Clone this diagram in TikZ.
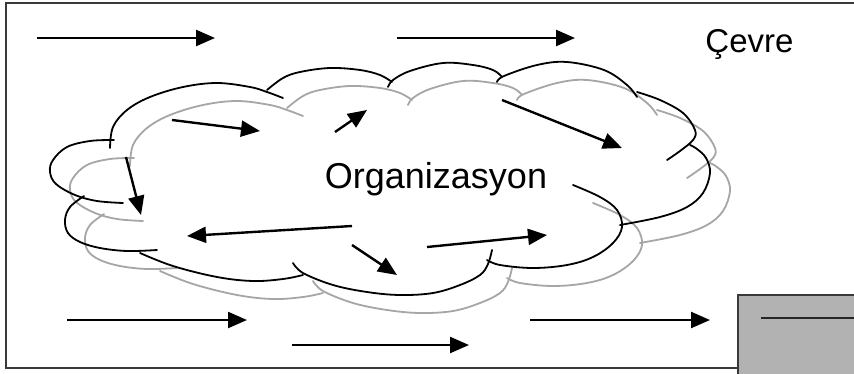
\documentclass[tikz,border=0pt]{standalone}
\usepackage{fontspec}
\setmainfont{Liberation Sans}
\usetikzlibrary{arrows.meta}
\definecolor{cloudgray}{HTML}{A6A6A6}
\definecolor{boxgray}{HTML}{B2B2B2}
\definecolor{framecol}{HTML}{3A3A3A}
\tikzset{
  flow/.style={line width=2.4pt, -{Triangle[length=19pt,width=16pt]}},
  cloudline/.style={line width=1.8pt, line cap=round},
}
\newcommand\cloudbumps[1]{%
  \draw[cloudline,#1] plot[smooth,tension=0.6] coordinates {(114,140) (90,141) (67,147) (53,160) (50,172) (56,184) (75,195) (97,201) (123,203)};
  \draw[cloudline,#1] plot[smooth,tension=0.6] coordinates {(84,196) (70,207) (65,220) (68,233) (80,242) (100,248) (127,251) (157,250)};
  \draw[cloudline,#1] plot[smooth,tension=0.6] coordinates {(140,253) (173,266) (217,277) (253,281) (283,279) (303,275)};
  \draw[cloudline,#1] plot[smooth,tension=0.6] coordinates {(293,263) (303,273) (333,285) (367,292) (400,295) (433,293) (460,285) (480,275) (488,264) (492,250)};
  \draw[cloudline,#1] plot[smooth,tension=0.6] coordinates {(487,260) (500,265) (533,268) (567,265) (593,257) (613,243) (622,227) (617,210) (600,197) (573,185)};
  \draw[cloudline,#1] plot[smooth,tension=0.6] coordinates {(620,225) (660,217) (687,207) (703,193) (710,173) (706,158) (697,149) (690,145)};
  \draw[cloudline,#1] plot[smooth,tension=0.6] coordinates {(637,92) (660,100) (683,113) (695,130) (693,140) (680,151) (667,160)};
  \draw[cloudline,#1] plot[smooth,tension=0.6] coordinates {(497,82) (504,76) (537,65) (567,62) (604,70) (627,85) (637,97)};
  \draw[cloudline,#1] plot[smooth,tension=0.6] coordinates {(388,87) (393,80) (410,71) (443,63) (473,65) (493,70) (502,77)};
  \draw[cloudline,#1] plot[smooth,tension=0.6] coordinates {(267,90) (283,78) (300,72) (330,68) (360,70) (380,75) (392,82)};
  \draw[cloudline,#1] plot[smooth,tension=0.6] coordinates {(110,148) (113,127) (127,110) (150,97) (183,87) (217,83) (250,87) (267,92) (283,98)};
}
\begin{document}
\begin{tikzpicture}[x=1pt,y=-1pt]
  \useasboundingbox (0,0) rectangle (854,373);
  \clip (0,0) rectangle (854,373);
  \fill[white] (0,0) rectangle (854,373);
  % environment frame
  \draw[framecol, line width=2pt] (6,3) rectangle (900,368);
  % system box at bottom right
  \draw[framecol, line width=2pt, fill=boxgray] (738,295) rectangle (900,400);
  \coordinate (boxlineS) at (761,318);
  \coordinate (boxlineE) at (900,318);
  \draw[black!85, line width=2.4pt] (boxlineS) -- (boxlineE);
  % clouds
  \begin{scope}[shift={(20,18)}]
    \cloudbumps{cloudgray}
  \end{scope}
  \cloudbumps{black}
  % texts
  \node[anchor=base, inner sep=0pt, font=\fontsize{36}{40}\selectfont] (org) at (436,188) {Organizasyon};
  \node[anchor=base, inner sep=0pt, font=\fontsize{33}{38}\selectfont] (env) at (749.5,52) {Çevre};
  % arrow end points
  \coordinate (a1s) at (37,38);   \coordinate (a1e) at (215,38);
  \coordinate (a2s) at (397,38);  \coordinate (a2e) at (575,38);
  \coordinate (a3s) at (67,320);  \coordinate (a3e) at (247,320);
  \coordinate (a4s) at (292,345); \coordinate (a4e) at (469,345);
  \coordinate (a5s) at (530,320); \coordinate (a5e) at (710,320);
  \coordinate (a6s) at (172,120); \coordinate (a6e) at (260,131);
  \coordinate (a7s) at (335,132); \coordinate (a7e) at (367,110);
  \coordinate (a8s) at (502,100); \coordinate (a8e) at (622,148);
  \coordinate (a9s) at (126,157); \coordinate (a9e) at (141,215);
  \coordinate (a10s) at (352,226); \coordinate (a10e) at (187,236);
  \coordinate (a11s) at (352,245); \coordinate (a11e) at (397,275);
  \coordinate (a12s) at (427,247); \coordinate (a12e) at (547,235);
  \foreach \i in {1,...,12} {\draw[flow] (a\i s) -- (a\i e);}
\end{tikzpicture}
\end{document}
